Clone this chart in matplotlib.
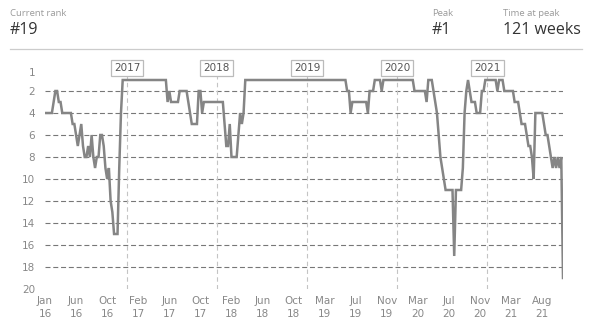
import matplotlib
matplotlib.use("Agg")
import matplotlib.pyplot as plt
from matplotlib.lines import Line2D
from matplotlib.transforms import ScaledTranslation

W, H = 591, 332

# weekly chart rank, stored as (rank, number of weeks) runs, one list per stretch
RUNS_2016 = [(4, 5), (3, 1), (2, 2), (3, 2), (4, 6), (5, 2), (6, 1), (7, 1), (6, 1),
             (5, 1), (7, 1), (8, 2), (7, 1), (8, 1), (6, 1), (8, 1), (9, 1), (8, 2),
             (6, 2), (7, 1), (9, 1), (10, 1), (9, 1), (12, 1), (13, 1), (15, 3),
             (9, 1), (4, 1)]
RUNS_2017 = [(1, 26), (3, 1), (2, 1), (3, 5), (2, 5), (3, 1), (4, 1), (5, 4), (2, 2),
             (4, 1), (3, 12)]
RUNS_2018 = [(5, 1), (7, 2), (5, 1), (8, 4), (6, 1), (4, 1), (5, 1), (4, 1),
             (1, 59), (2, 2), (4, 1), (3, 9), (4, 1), (2, 3), (1, 4), (2, 1), (1, 18)]
RUNS_2020 = [(2, 7), (3, 1), (1, 3), (2, 1), (3, 1), (4, 1), (6, 1), (8, 1), (9, 1),
             (10, 1), (11, 5), (17, 1), (11, 4), (9, 1), (4, 1), (2, 1), (1, 1),
             (2, 1), (3, 3), (4, 3), (2, 2), (1, 7), (2, 1), (1, 3)]
RUNS_2021 = [(2, 6), (3, 3), (4, 1), (5, 3), (6, 1), (7, 2), (8, 1), (10, 1), (4, 5),
             (5, 1), (6, 2), (7, 1), (8, 1), (9, 1), (8, 1), (9, 1), (8, 1), (9, 1),
             (8, 1), (19, 1)]

TICK_LABELS = ["Jan\n16", "Jun\n16", "Oct\n16", "Feb\n17", "Jun\n17", "Oct\n17",
               "Feb\n18", "Jun\n18", "Oct\n18", "Mar\n19", "Jul\n19", "Nov\n19",
               "Mar\n20", "Jul\n20", "Nov\n20", "Mar\n21", "Aug\n21"]
TICK_STEP = 18  # weeks between axis labels
YEARS = ["2017", "2018", "2019", "2020", "2021"]
YEAR_WEEKS = [47.5, 99.4, 151.8, 203.9, 256.1]
RANK_TICKS = [1, 2, 4, 6, 8, 10, 12, 14, 16, 18, 20]

CURRENT_RANK = 19
PEAK = 1
WEEKS_AT_PEAK = 121

ranks = []
for runs in (RUNS_2016, RUNS_2017, RUNS_2018, RUNS_2020, RUNS_2021):
    for r, n in runs:
        ranks += [r] * n
weeks = list(range(len(ranks)))

fig = plt.figure(figsize=(W / 100, H / 100), dpi=100)
fig.patch.set_facecolor("white")

left, right, top, bottom = 45, 563, 74.5, 289
ax = fig.add_axes([left / W, 1 - bottom / H, (right - left) / W, (bottom - top) / H])
ax.set_xlim(0, len(ranks) - 1)
ax.set_ylim(20, 0.5)
for s in ax.spines.values():
    s.set_visible(False)

for r in RANK_TICKS[1:-1]:
    ax.axhline(r, color="#777777", lw=0.8, ls=(0, (4.5, 2.5)), zorder=1)
for w in YEAR_WEEKS:
    ax.axvline(w, color="#c4c4c4", lw=0.8, ls=(0, (4, 3)), zorder=1)

ax.plot(weeks, ranks, color="#858585", lw=1.8, zorder=3, solid_joinstyle="miter")

for label, w in zip(YEARS, YEAR_WEEKS):
    ax.text(w, -0.1, label, ha="center", va="center", fontsize=7.5, color="#555555",
            clip_on=False, zorder=5,
            bbox=dict(boxstyle="square,pad=0.3", fc="white", ec="#bbbbbb", lw=0.9))

ax.set_yticks(RANK_TICKS)
ax.set_yticklabels([str(r) for r in RANK_TICKS])
ax.set_xticks([i * TICK_STEP for i in range(len(TICK_LABELS))])
ax.set_xticklabels(TICK_LABELS, linespacing=1.4)
ax.tick_params(length=0, labelsize=7.5, labelcolor="#888888")
ax.tick_params(axis="y", pad=7)
ax.tick_params(axis="x", pad=5)
# the top rank label sits at the upper edge of the plot
first = ax.get_yticklabels()[0]
first.set_transform(first.get_transform() + ScaledTranslation(0, 6 / 72, fig.dpi_scale_trans))

# header
def fy(py):
    return 1 - py / H

hdr = "Open Sans"
fig.text(10 / W, fy(13), "Current rank", fontsize=6.8, color="#9a9a9a", family=hdr, va="center")
fig.text(10 / W, fy(30), f"#{CURRENT_RANK}", fontsize=11.5, color="#333333", family=hdr, va="center")
fig.text(432 / W, fy(13), "Peak", fontsize=6.8, color="#9a9a9a", family=hdr, va="center")
fig.text(432 / W, fy(30), f"#{PEAK}", fontsize=11.5, color="#333333", family=hdr, va="center")
fig.text(503 / W, fy(13), "Time at peak", fontsize=6.8, color="#9a9a9a", family=hdr, va="center")
fig.text(503 / W, fy(30), f"{WEEKS_AT_PEAK} weeks", fontsize=11.5, color="#333333", family=hdr, va="center")
fig.add_artist(Line2D([10 / W, 582 / W], [fy(49), fy(49)], color="#cccccc", lw=0.9))

fig.savefig("out.png", dpi=100, facecolor="white")
